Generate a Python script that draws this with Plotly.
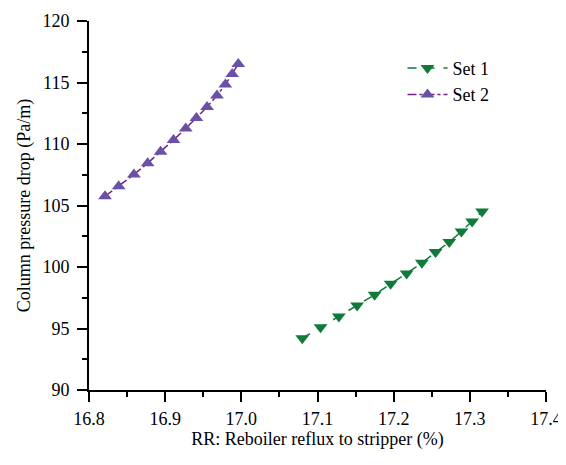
import plotly.graph_objects as go

# Set 1 data
set1_x = [17.080, 17.104, 17.128, 17.152, 17.175, 17.196, 17.217, 17.237, 17.255, 17.273, 17.289, 17.303, 17.316]
set1_y = [94.20, 95.10, 95.98, 96.87, 97.74, 98.64, 99.47, 100.34, 101.21, 102.03, 102.89, 103.70, 104.51]

# Set 2 data
set2_x = [16.821, 16.839, 16.859, 16.877, 16.894, 16.911, 16.927, 16.941, 16.955, 16.968, 16.979, 16.988, 16.996]
set2_y = [105.75, 106.57, 107.52, 108.44, 109.36, 110.33, 111.26, 112.12, 113.01, 113.94, 114.83, 115.70, 116.51]

x_ticks = [16.8, 16.9, 17.0, 17.1, 17.2, 17.3, 17.4]
x_ticklabels = ["16.8", "16.9", "17.0", "17.1", "17.2", "17.3", "17.4"]
y_ticks = [90, 95, 100, 105, 110, 115, 120]

FONT = "Liberation Serif"

fig = go.Figure()
fig.add_trace(go.Scatter(
    x=set1_x, y=set1_y, mode="lines+markers", name="Set 1",
    line=dict(color="#0f7a3a", width=1.5, dash="dash"),
    marker=dict(symbol="triangle-down", size=12, color="#0f7a3a"),
))
fig.add_trace(go.Scatter(
    x=set2_x, y=set2_y, mode="lines+markers", name="Set 2",
    line=dict(color="#7a1f82", width=1.5, dash="dashdot"),
    marker=dict(symbol="triangle-up", size=12, color="#6a51a8"),
))

axis_common = dict(
    showline=True, linecolor="black", linewidth=2,
    ticks="outside", ticklen=10, tickwidth=2, tickcolor="black",
    showgrid=False, zeroline=False, mirror=False, automargin=False,
    tickfont=dict(family=FONT, size=18, color="black"),
)

fig.update_xaxes(
    range=[16.8, 17.4], tickvals=x_ticks, ticktext=x_ticklabels,
    title=dict(text="RR: Reboiler reflux to stripper (%)", font=dict(family=FONT, size=18, color="black"), standoff=2),
    minor=dict(ticks="outside", ticklen=5, tickwidth=2, tickcolor="black", dtick=0.05, showgrid=False),
    ticklabelstandoff=1,
    **axis_common,
)
fig.update_yaxes(
    range=[90, 120], tickvals=y_ticks,
    title=dict(text="Column pressure drop (Pa/m)", font=dict(family=FONT, size=18, color="black"), standoff=7),
    minor=dict(ticks="outside", ticklen=5, tickwidth=2, tickcolor="black", dtick=2.5, showgrid=False),
    ticklabelstandoff=4,
    **axis_common,
)

fig.update_layout(
    width=558, height=449,
    margin=dict(l=81, r=20, t=13, b=67),
    plot_bgcolor="white", paper_bgcolor="white",
    font=dict(family=FONT, size=18, color="black"),
    showlegend=True,
    legend=dict(x=0.686, y=0.922, xanchor="left", yanchor="top",
                bgcolor="rgba(0,0,0,0)", font=dict(family=FONT, size=18),
                tracegroupgap=0, itemwidth=40),
)

fig.write_html("out.html")
